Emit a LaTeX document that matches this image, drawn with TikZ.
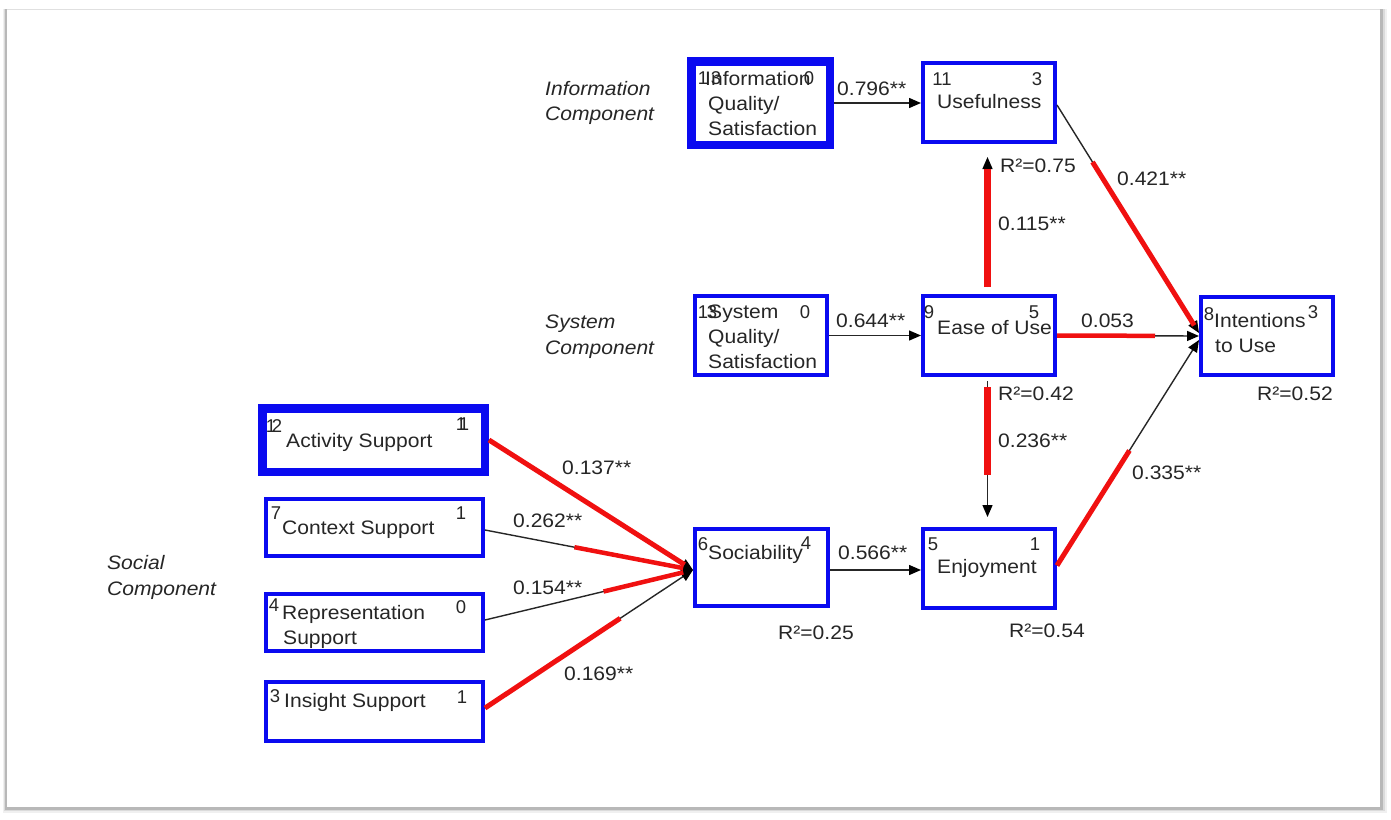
\documentclass[tikz,border=0pt]{standalone}
\usepackage{fontspec}
\setmainfont[FakeStretch=1.08]{Liberation Sans}
\newfontfamily\digitfont{Liberation Sans}
\usetikzlibrary{arrows.meta,calc}
\definecolor{ink}{HTML}{262626}
\definecolor{boxblue}{HTML}{0A0AF0}
\definecolor{pathred}{HTML}{F01010}

\begin{document}
\begin{tikzpicture}[x=1pt,y=-1pt,
  box/.style={draw=boxblue,fill=white,line width=4pt,inner sep=0,rectangle},
  heavybox/.style={box,line width=8.5pt},
  lbl/.style={anchor=base west,inner sep=0,text=ink,font=\fontsize{19.5}{24}\selectfont},
  grp/.style={lbl,font=\fontsize{19.5}{24}\selectfont\itshape},
  cnum/.style={anchor=base,inner sep=0,text=ink,font=\digitfont\fontsize{18.5}{22}\selectfont},
  link/.style={draw=ink,line width=1.4pt},
  arr/.style={link,-{Triangle[length=12pt,width=10pt,fill=black,color=black]}},
  hot/.style={draw=pathred,line width=5pt},
  hotv/.style={hot,line width=7.5pt}]

% page with drop shadow
\fill[white] (0,0) rectangle (1391,819);
\useasboundingbox (0,0) rectangle (1391,819);
\fill[black!6] (3,9) rectangle (1387,813);
\fill[black!14] (4,9) rectangle (1385,811);
\fill[black!28] (5,9) rectangle (1383,809.5);
\fill[white] (7,10) rectangle (1380,807);
\draw[black!12,line width=0.8pt] (7,9.6) -- (1380,9.6);

% construct boxes
\node[heavybox,minimum width=138.5,minimum height=83.5] (info) at (760.5,103) {};
\node[box,minimum width=132,minimum height=79] (useful) at (989,102.5) {};
\node[box,minimum width=132,minimum height=79] (sys) at (761,335.5) {};
\node[box,minimum width=132,minimum height=79] (ease) at (989,335.5) {};
\node[box,minimum width=132,minimum height=78] (int) at (1267,336) {};
\node[heavybox,minimum width=222.5,minimum height=63.5] (act) at (373.5,440) {};
\node[box,minimum width=217,minimum height=57] (ctx) at (374.5,527.5) {};
\node[box,minimum width=217,minimum height=57] (rep) at (374.5,622.5) {};
\node[box,minimum width=217,minimum height=59] (ins) at (374.5,711.5) {};
\node[box,minimum width=133,minimum height=77] (soc) at (761.5,567.5) {};
\node[box,minimum width=132,minimum height=79] (enjoy) at (989,568.5) {};

% connector end points on the boxes
\coordinate (sIn) at ([yshift=-2.5pt]soc.west);
\coordinate (ctxE) at ([yshift=-2.5pt]ctx.east);
\coordinate (repE) at ([yshift=2.5pt]rep.east);
\coordinate (insE) at ([yshift=3.5pt]ins.east);
\coordinate (sE) at ([yshift=-2.5pt]soc.east);
\coordinate (uE) at ([yshift=-2.5pt]useful.east);
\coordinate (jE) at ([yshift=3pt]enjoy.east);
\coordinate (iA) at ([yshift=3pt]int.west);
\coordinate (iB) at (int.west);
\coordinate (iC) at ([yshift=-4pt]int.west);
\coordinate (eN) at ([xshift=-1.5pt]ease.north);
\coordinate (uS) at ([xshift=-1.5pt]useful.south);
\coordinate (eS) at ([xshift=-1.5pt]ease.south);
\coordinate (jN) at ([xshift=-1.5pt]enjoy.north);

% paths
\draw[arr] (info.east) -- (info.east -| useful.west);
\draw[arr] (sys.east) -- (sys.east -| ease.west);
\draw[arr] (sE) -- (sE -| enjoy.west);
\draw[arr,shorten <=7pt,shorten >=13pt] (eN) -- (uS);
\draw[arr,shorten <=4pt,shorten >=10pt] (eS) -- (jN);
\draw[arr] (uE) -- (iA);
\draw[arr] (ease.east) -- (iB);
\draw[arr] (jE) -- (iC);
\draw[arr] (act.east) -- (sIn);
\draw[arr] (ctxE) -- (sIn);
\draw[arr] (repE) -- (sIn);
\draw[arr] (insE) -- (sIn);

% highlighted portions of the paths
\draw[hotv] ($(eN)!7pt!(uS)$) -- ($(uS)!25pt!(eN)$);
\draw[hotv] ($(eS)!10pt!(jN)$) -- ($(eS)!98pt!(jN)$);
\draw[hot] ($(uE)!0.25!(iA)$) -- ($(iA)!9pt!(uE)$);
\draw[hot,line width=4.5pt] (ease.east) -- ($(ease.east)!0.69!(iB)$);
\draw[hot] (jE) -- ($(jE)!0.51!(iC)$);
\draw[hot] (act.east) -- ($(sIn)!10pt!(act.east)$);
\draw[hot,line width=4.5pt] ($(ctxE)!0.43!(sIn)$) -- ($(sIn)!10pt!(ctxE)$);
\draw[hot,line width=4.5pt] ($(repE)!0.57!(sIn)$) -- ($(sIn)!10pt!(repE)$);
\draw[hot] (insE) -- ($(insE)!0.65!(sIn)$);

% component groups
\node[grp] (g-info-1) at (545,95) {Information};
\node[grp] (g-info-2) at (545,120) {Component};
\node[grp] (g-sys-1) at (545,328) {System};
\node[grp] (g-sys-2) at (545,354) {Component};
\node[grp] (g-soc-1) at (107,569) {Social};
\node[grp] (g-soc-2) at (107,595) {Component};

% box texts
\node[lbl] (t-info-1) at (705,85) {Information};
\node[lbl] (t-info-2) at (708,110) {Quality/};
\node[lbl] (t-info-3) at (708,135) {Satisfaction};
\node[cnum] (n-info-a) at (703,84) {1};
\node[cnum] (n-info-b) at (716,84) {3};
\node[cnum] (n-info-c) at (809,84) {0};

\node[lbl] (t-useful) at (937,108) {Usefulness};
\node[cnum] (n-useful-a) at (942,85) {11};
\node[cnum] (n-useful-b) at (1037,85) {3};

\node[lbl] (t-sys-1) at (708,318) {System};
\node[lbl] (t-sys-2) at (708,343) {Quality/};
\node[lbl] (t-sys-3) at (708,368) {Satisfaction};
\node[cnum] (n-sys-a) at (703,318) {1};
\node[cnum] (n-sys-b) at (712,318) {3};
\node[cnum] (n-sys-c) at (805,318) {0};

\node[lbl] (t-ease) at (937,334) {Ease of Use};
\node[cnum] (n-ease-a) at (929,318) {9};
\node[cnum] (n-ease-b) at (1034,318) {5};

\node[lbl] (t-int-1) at (1214,327) {Intentions};
\node[lbl] (t-int-2) at (1215,352) {to Use};
\node[cnum] (n-int-a) at (1209,320) {8};
\node[cnum] (n-int-b) at (1313,318) {3};

\node[lbl] (t-act) at (286,447) {Activity Support};
\node[cnum] (n-act-a) at (271,432) {1};
\node[cnum] (n-act-b) at (277,432) {2};
\node[cnum] (n-act-c) at (461,430) {1};
\node[cnum] (n-act-d) at (464,430) {1};

\node[lbl] (t-ctx) at (282,534) {Context Support};
\node[cnum] (n-ctx-a) at (276,519) {7};
\node[cnum] (n-ctx-b) at (461,519) {1};

\node[lbl] (t-rep-1) at (282,619) {Representation};
\node[lbl] (t-rep-2) at (283,644) {Support};
\node[cnum] (n-rep-a) at (274,611) {4};
\node[cnum] (n-rep-b) at (461,613) {0};

\node[lbl] (t-ins) at (284,707) {Insight Support};
\node[cnum] (n-ins-a) at (275,702) {3};
\node[cnum] (n-ins-b) at (462,703) {1};

\node[lbl] (t-soc) at (708,559) {Sociability};
\node[cnum] (n-soc-a) at (703,550) {6};
\node[cnum] (n-soc-b) at (806,549) {4};

\node[lbl] (t-enjoy) at (937,573) {Enjoyment};
\node[cnum] (n-enjoy-a) at (933,550) {5};
\node[cnum] (n-enjoy-b) at (1035,550) {1};

% path coefficients
\node[lbl] (c-iq) at (837,95) {0.796**};
\node[lbl] (c-sq) at (836,327) {0.644**};
\node[lbl] (c-se) at (838,559) {0.566**};
\node[lbl] (c-ui) at (1117,185) {0.421**};
\node[lbl] (c-ei) at (1081,327) {0.053};
\node[lbl] (c-eu) at (998,230) {0.115**};
\node[lbl] (c-ej) at (998,447) {0.236**};
\node[lbl] (c-ji) at (1132,479) {0.335**};
\node[lbl] (c-as) at (562,474) {0.137**};
\node[lbl] (c-cs) at (513,527) {0.262**};
\node[lbl] (c-rs) at (513,594) {0.154**};
\node[lbl] (c-is) at (564,680) {0.169**};

% explained variance
\node[lbl] (r-useful) at (1000,172) {R²=0.75};
\node[lbl] (r-ease) at (998,400) {R²=0.42};
\node[lbl] (r-int) at (1257,400) {R²=0.52};
\node[lbl] (r-soc) at (778,639) {R²=0.25};
\node[lbl] (r-enjoy) at (1009,637) {R²=0.54};

\end{tikzpicture}
\end{document}
